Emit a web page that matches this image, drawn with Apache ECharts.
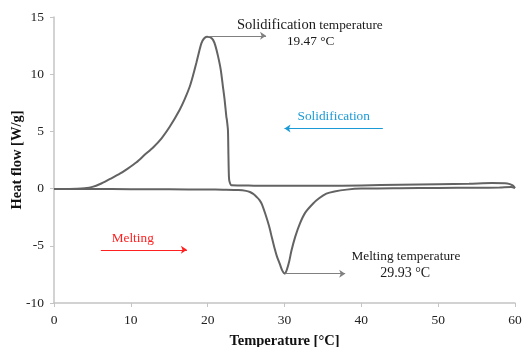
<!DOCTYPE html>
<html><head><meta charset="utf-8">
<script src="https://cdn.jsdelivr.net/npm/echarts@6/dist/echarts.min.js"></script>
<style>html,body{margin:0;padding:0;background:#fff}#c{width:525px;height:347px}</style>
</head><body><div id="c"></div>
<script>
// ---- data ----
const xTickValues = [0, 10, 20, 30, 40, 50, 60];
const yTickValues = [-10, -5, 0, 5, 10, 15];

// cooling run (solidification), in the order it was recorded: 60 -> 0 °C
const solidificationTemp = [60, 59.7, 59, 57, 54, 50, 45, 40, 35, 30, 26, 23.1, 22.85, 22.77, 22.7, 22.64, 22.5, 22.43, 22.2, 21.99, 21.7, 21.34, 21.0, 20.7, 20.3, 19.9, 19.5, 19.18, 18.9, 18.53, 18.1, 17.66, 17.0, 16.36, 15.06, 14.0, 12.9, 11.8, 10.74, 9.6, 8.57, 7.3, 6.0, 5.0, 4.0, 3.0, 2.0, 1.0, 0];
const solidificationFlow = [0.05, 0.28, 0.45, 0.48, 0.42, 0.38, 0.33, 0.28, 0.24, 0.24, 0.26, 0.29, 0.6, 1.0, 3.0, 5.1, 6.0, 6.3, 7.8, 8.9, 10.4, 11.6, 12.5, 13.0, 13.25, 13.28, 13.1, 12.7, 12.0, 11.0, 9.9, 8.9, 7.8, 6.9, 5.4, 4.4, 3.6, 2.95, 2.3, 1.75, 1.3, 0.85, 0.4, 0.15, 0.03, -0.02, -0.03, -0.03, -0.03];

// heating run (melting): 0 -> 60 °C
const meltingTemp = [0, 5, 10, 15, 20, 22, 24, 25, 25.5, 26, 26.4, 26.75, 27.05, 27.5, 28, 28.35, 28.7, 29.0, 29.4, 29.7, 30.05, 30.3, 30.6, 30.9, 31.4, 31.99, 32.7, 33.7, 34.5, 35.45, 36.5, 38.1, 40, 45, 50, 55, 58, 59.5, 60];
const meltingFlow = [-0.03, -0.04, -0.05, -0.06, -0.08, -0.1, -0.13, -0.2, -0.3, -0.5, -0.75, -1.0, -1.35, -2.2, -3.3, -4.26, -5.2, -5.9, -6.6, -7.15, -7.44, -7.1, -6.4, -5.44, -4.2, -3.08, -2.1, -1.32, -0.85, -0.44, -0.25, -0.09, 0.0, 0.04, 0.06, 0.07, 0.1, 0.14, 0.05];

const solidificationPeak = [19.47, 13.3];
const meltingPeak = [29.93, -7.44];

const solidificationPoints = solidificationTemp.map((t, i) => [t, solidificationFlow[i]]);
const meltingPoints = meltingTemp.map((t, i) => [t, meltingFlow[i]]);

const serif = '"Liberation Serif", "Times New Roman", serif';
const chart = echarts.init(document.getElementById('c'), null, {renderer: 'canvas'});

const axisGray = '#c4c4c4';
const curveGray = '#636363';

const option = {
  animation: false,
  backgroundColor: '#ffffff',
  grid: {left: 54, right: 10, top: 17, bottom: 44, containLabel: false, outerBoundsMode: 'none'},
  xAxis: {
    type: 'value', min: xTickValues[0], max: xTickValues[xTickValues.length - 1], interval: 10,
    name: 'Temperature [°C]', nameLocation: 'middle', nameGap: 31, nameMoveOverlap: false,
    nameTextStyle: {fontFamily: serif, fontWeight: 'bold', fontSize: 14.5, color: '#111'},
    axisLine: {show: true, onZero: false, lineStyle: {color: axisGray, width: 1.5}},
    axisTick: {show: true, length: 4, lineStyle: {color: axisGray, width: 1}},
    axisLabel: {fontFamily: serif, fontSize: 13.5, color: '#222', margin: 10},
    splitLine: {show: false}
  },
  yAxis: {
    type: 'value', min: yTickValues[0], max: yTickValues[yTickValues.length - 1], interval: 5,
    name: 'Heat flow [W/g]', nameLocation: 'middle', nameGap: 29, nameMoveOverlap: false,
    nameTextStyle: {fontFamily: serif, fontWeight: 'bold', fontSize: 14.5, color: '#111'},
    axisLine: {show: true, onZero: false, lineStyle: {color: axisGray, width: 1.5}},
    axisTick: {show: true, length: 4, lineStyle: {color: axisGray, width: 1}},
    axisLabel: {fontFamily: serif, fontSize: 13.5, color: '#222', margin: 10},
    splitLine: {show: false}
  },
  series: [
    {
      type: 'line', name: 'Solidification', data: solidificationPoints,
      showSymbol: false, smooth: 0.25, lineStyle: {color: curveGray, width: 2}, z: 3,
      markLine: {
        silent: true, symbol: ['none', 'arrow'], symbolSize: 6, label: {show: false},
        data: [
          [{coord: [20.1, 13.36], lineStyle: {color: '#808080', width: 1, type: 'solid'}, itemStyle: {color: '#808080'}}, {coord: [27.6, 13.36]}],
          [{coord: [42.8, 5.25], lineStyle: {color: '#1b9ad6', width: 1.2, type: 'solid'}, itemStyle: {color: '#1b9ad6'}}, {coord: [30.0, 5.25]}]
        ]
      }
    },
    {
      type: 'line', name: 'Melting', data: meltingPoints,
      showSymbol: false, smooth: 0.25, lineStyle: {color: curveGray, width: 2}, z: 3,
      markLine: {
        silent: true, symbol: ['none', 'arrow'], symbolSize: 6, label: {show: false},
        data: [
          [{coord: [30.1, -7.44], lineStyle: {color: '#808080', width: 1, type: 'solid'}, itemStyle: {color: '#808080'}}, {coord: [37.9, -7.44]}],
          [{coord: [6.1, -5.35], lineStyle: {color: '#ff2020', width: 1.2, type: 'solid'}, itemStyle: {color: '#ff2020'}}, {coord: [17.3, -5.35]}]
        ]
      }
    }
  ]
};
chart.setOption(option);

const annotations = [
  {at: [33.3, 14.3], text: '{a|Solidification} {b|temperature}', color: '#1a1a1a'},
  {at: [33.4, 12.85], text: '{b|' + solidificationPeak[0].toFixed(2) + ' °C}', color: '#1a1a1a'},
  {at: [36.4, 6.3], text: '{b|Solidification}', color: '#1b9ad6'},
  {at: [10.25, -4.38], text: '{b|Melting}', color: '#ff2020'},
  {at: [45.8, -5.96], text: '{b|Melting temperature}', color: '#1a1a1a'},
  {at: [45.7, -7.44], text: '{c|' + meltingPeak[0].toFixed(2) + ' °C}', color: '#1a1a1a'}
];

chart.setOption({
  graphic: annotations.map(a => {
    const p = chart.convertToPixel({gridIndex: 0}, a.at);
    return {
      type: 'text', x: p[0], y: p[1], silent: true, z: 10,
      style: {
        text: a.text, fill: a.color, fontFamily: serif, fontSize: 13.5,
        textAlign: 'center', textVerticalAlign: 'middle', align: 'center', verticalAlign: 'middle',
        rich: {
          a: {fontFamily: serif, fontSize: 14.5, fill: a.color, color: a.color},
          b: {fontFamily: serif, fontSize: 13.3, fill: a.color, color: a.color},
          c: {fontFamily: serif, fontSize: 14, fill: a.color, color: a.color}
        }
      }
    };
  })
});
</script>
</body></html>
